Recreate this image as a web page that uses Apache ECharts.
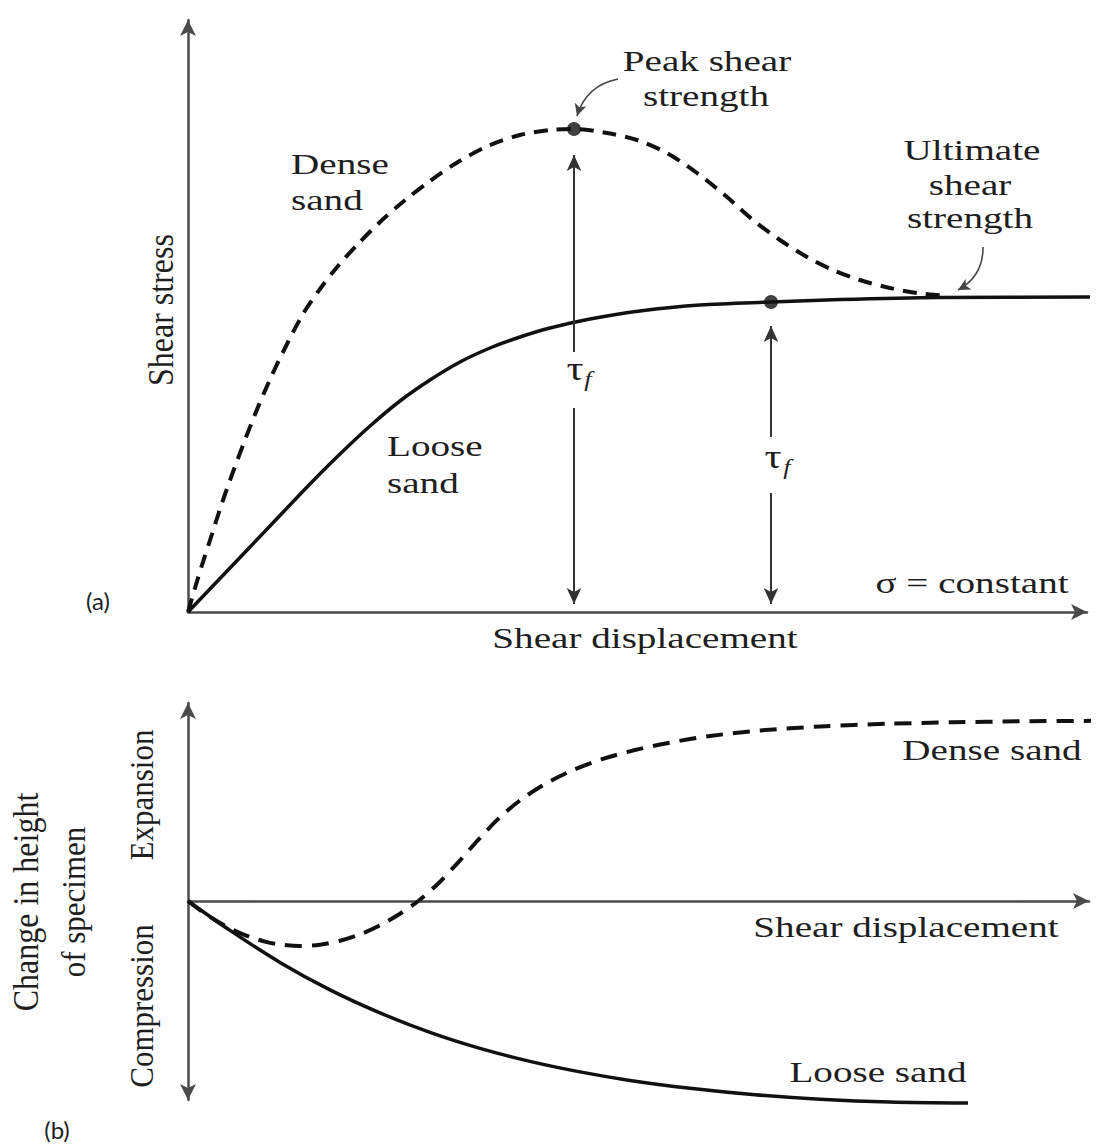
<!DOCTYPE html>
<html>
<head>
<meta charset="utf-8">
<script src="https://cdn.jsdelivr.net/npm/echarts/dist/echarts.min.js"></script>
<style>
html,body{margin:0;padding:0;background:#ffffff;}
#chart{width:1099px;height:1147px;}
</style>
</head>
<body>
<div id="chart"></div>
<script>
// ---------- Panel (a): shear stress vs shear displacement (arbitrary units) ----------
const denseStress = [
  [0,0],[0.77,4.0],[1.65,8.33],[2.65,13.0],[3.75,18.17],[4.96,23.33],[6.28,28.67],
  [7.72,34.17],[9.26,39.5],[10.92,44.67],[12.68,49.67],[14.55,53.83],[16.54,57.67],
  [18.74,61.33],[21.17,65.0],[23.81,68.5],[26.68,71.83],[29.77,75.0],[33.08,77.67],
  [36.60,79.5],[39.91,80.33],[42.56,80.5],[46.20,79.83],[49.50,78.67],[52.81,76.5],
  [56.12,73.17],[59.43,69.17],[62.29,65.33],[65.27,62.0],[68.25,59.17],[71.11,57.0],
  [74.09,55.33],[77.40,54.0],[80.37,53.17],[83.68,52.67]
];
const looseStress = [
  [0,0],[4.63,7.33],[9.04,14.33],[13.45,21.33],[16.76,26.33],[20.07,31.0],[23.37,35.17],
  [26.68,38.67],[29.99,41.67],[33.30,44.0],[36.60,45.83],[39.91,47.33],[44.32,48.83],
  [49.83,50.17],[56.45,51.17],[64.28,51.67],[71.89,52.08],[82.91,52.42],[100.44,52.5]
];
const peakStrength = [42.56, 80.5];      // dense sand peak
const looseFailure = [64.28, 51.67];     // loose sand failure point
const tauArrowsA = [
  [[42.56,43.33],[42.56,76.17]], [[42.56,34.0],[42.56,1.33]],
  [[64.28,29.17],[64.28,47.67]], [[64.28,19.83],[64.28,1.33]]
];
const calloutArrowsA = [
  {from:[47.41,88.83], to:[42.89,82.67], curve:-0.3},
  {from:[87.65,60.83], to:[84.90,53.67], curve:0.3}
];

// ---------- Panel (b): change in height vs shear displacement ----------
const denseHeight = [
  [0,0],[1.32,-4.41],[2.75,-8.62],[4.29,-12.54],[5.72,-15.54],[7.26,-18.11],[8.69,-19.9],
  [10.12,-21.11],[12.32,-21.79],[14.52,-21.16],[16.72,-19.27],[18.92,-16.17],[21.12,-11.82],
  [23.32,-6.2],[25.30,-0.1],[27.50,8.38],[29.70,18.55],[31.90,29.49],[34.10,39.66],
  [36.52,48.72],[39.27,56.61],[42.24,63.15],[45.54,68.67],[49.17,73.12],[53.03,76.71],
  [57.43,79.9],[62.93,82.57],[69.53,84.5],[76.90,85.81],[84.16,86.54],[91.53,87.02],
  [100.22,87.26]
];
const looseHeight = [
  [0,0],[4.62,-14.24],[10.12,-29.73],[15.62,-43.05],[21.12,-54.19],[26.62,-63.63],
  [32.12,-71.38],[37.62,-77.68],[43.12,-82.76],[48.62,-86.88],[55.23,-90.65],
  [62.38,-93.80],[69.53,-95.98],[77.23,-97.34],[85.81,-97.82]
];

// ---------- Text ----------
const SERIF = '"Liberation Serif","Times New Roman",serif';
const INK = '#1e1e1e';

function htext(str, x, baseline, opts) {
  opts = opts || {};
  const fs = opts.fs || 29;
  return {
    type: 'text', silent: true,
    x: x, y: baseline - 0.34 * fs,
    scaleX: opts.sx || 1.35, scaleY: opts.sy || 1,
    style: {
      text: str, x: 0, y: 0,
      font: (opts.italic ? 'italic ' : '') + fs + 'px ' + (opts.family || SERIF),
      fill: INK, align: opts.align || 'center', verticalAlign: 'middle'
    }
  };
}
function vtext(str, x, y, fs, sy) {
  return {
    type: 'text', silent: true, x: x, y: y, rotation: Math.PI / 2,
    scaleX: 1, scaleY: sy || 1.1,
    style: { text: str, x: 0, y: 0, font: fs + 'px ' + SERIF, fill: INK,
             align: 'center', verticalAlign: 'middle' }
  };
}

const texts = [
  htext('Peak shear', 707, 71),
  htext('strength', 706, 106),
  htext('Dense', 291, 174, {align:'left'}),
  htext('sand', 291, 210, {align:'left'}),
  htext('Loose', 387, 456, {align:'left'}),
  htext('sand', 387, 493, {align:'left'}),
  htext('Ultimate', 972, 160),
  htext('shear', 970, 195),
  htext('strength', 970, 228),
  htext('\u03C3 = constant', 972, 593),
  htext('Shear displacement', 645, 648),
  htext('\u03C4', 575, 380, {fs:34, sx:1.25}),
  htext('f', 588, 386, {fs:22, sx:1.2, italic:true}),
  htext('\u03C4', 773, 468, {fs:34, sx:1.25}),
  htext('f', 787, 474, {fs:22, sx:1.2, italic:true}),
  htext('Dense sand', 992, 760),
  htext('Shear displacement', 906, 937),
  htext('Loose sand', 878, 1082),
  vtext('Shear stress', 161, 310, 32),
  vtext('Expansion', 141, 795, 31),
  vtext('Compression', 141, 1006, 31),
  vtext('Change in height', 26, 902, 32),
  vtext('of specimen', 73, 902, 31),
  htext('(a)', 98, 609, {fs:24, sx:1, family:'Lato, "Open Sans", sans-serif'}),
  htext('(b)', 57, 1138, {fs:24, sx:1, family:'Lato, "Open Sans", sans-serif'})
];

const axisLine = (sym) => ({
  show: true, onZero: true, symbol: sym, symbolSize: [12, 16],
  lineStyle: { color: '#4a4a4a', width: 2.5 }
});
const hidden = { axisTick:{show:false}, axisLabel:{show:false}, splitLine:{show:false} };

const chart = echarts.init(document.getElementById('chart'), null, { renderer: 'svg' });
chart.setOption({
  animation: false,
  backgroundColor: '#ffffff',
  grid: [
    { left: 188, top: 20, width: 899, height: 592 },
    { left: 188, top: 703, width: 901, height: 397 }
  ],
  xAxis: [
    Object.assign({ type:'value', gridIndex:0, min:0, max:99.12, axisLine: axisLine(['none','arrow']) }, hidden),
    Object.assign({ type:'value', gridIndex:1, min:0, max:99.12, axisLine: axisLine(['none','arrow']) }, hidden)
  ],
  yAxis: [
    Object.assign({ type:'value', gridIndex:0, min:0, max:98.67, axisLine: axisLine(['none','arrow']) }, hidden),
    Object.assign({ type:'value', gridIndex:1, min:-96.37, max:95.88, axisLine: axisLine(['arrow','arrow']) }, hidden)
  ],
  series: [
    { name:'Dense sand (a)', type:'line', xAxisIndex:0, yAxisIndex:0, data: denseStress,
      showSymbol:false, smooth:0.3, clip:false, z:3,
      lineStyle:{ color:'#111', width:4, type:[14,9] } },
    { name:'Loose sand (a)', type:'line', xAxisIndex:0, yAxisIndex:0, data: looseStress,
      showSymbol:false, smooth:0.3, clip:false, z:3,
      lineStyle:{ color:'#111', width:3.5 } },
    { name:'points', type:'scatter', xAxisIndex:0, yAxisIndex:0,
      data:[peakStrength, looseFailure], symbolSize:14, itemStyle:{color:'#111'}, z:5 },
    { name:'tau arrows', type:'lines', coordinateSystem:'cartesian2d', xAxisIndex:0, yAxisIndex:0,
      data: tauArrowsA.map(c => ({ coords: c })),
      symbol:['none','arrow'], symbolSize:[1,[11,16]],
      lineStyle:{ color:'#333', width:2, opacity:1 }, z:4 },
    { name:'callouts', type:'lines', coordinateSystem:'cartesian2d', xAxisIndex:0, yAxisIndex:0,
      data: calloutArrowsA.map(a => ({ coords:[a.from, a.to], lineStyle:{ curveness:a.curve } })),
      symbol:['none','arrow'], symbolSize:[1,[9,12]],
      lineStyle:{ color:'#444', width:1.6, opacity:1 }, z:4 },
    { name:'Dense sand (b)', type:'line', xAxisIndex:1, yAxisIndex:1, data: denseHeight,
      showSymbol:false, smooth:0.3, clip:false, z:3,
      lineStyle:{ color:'#111', width:4, type:[17,10] } },
    { name:'Loose sand (b)', type:'line', xAxisIndex:1, yAxisIndex:1, data: looseHeight,
      showSymbol:false, smooth:0.3, clip:false, z:3,
      lineStyle:{ color:'#111', width:3.5 } }
  ],
  graphic: texts
});
</script>
</body>
</html>
